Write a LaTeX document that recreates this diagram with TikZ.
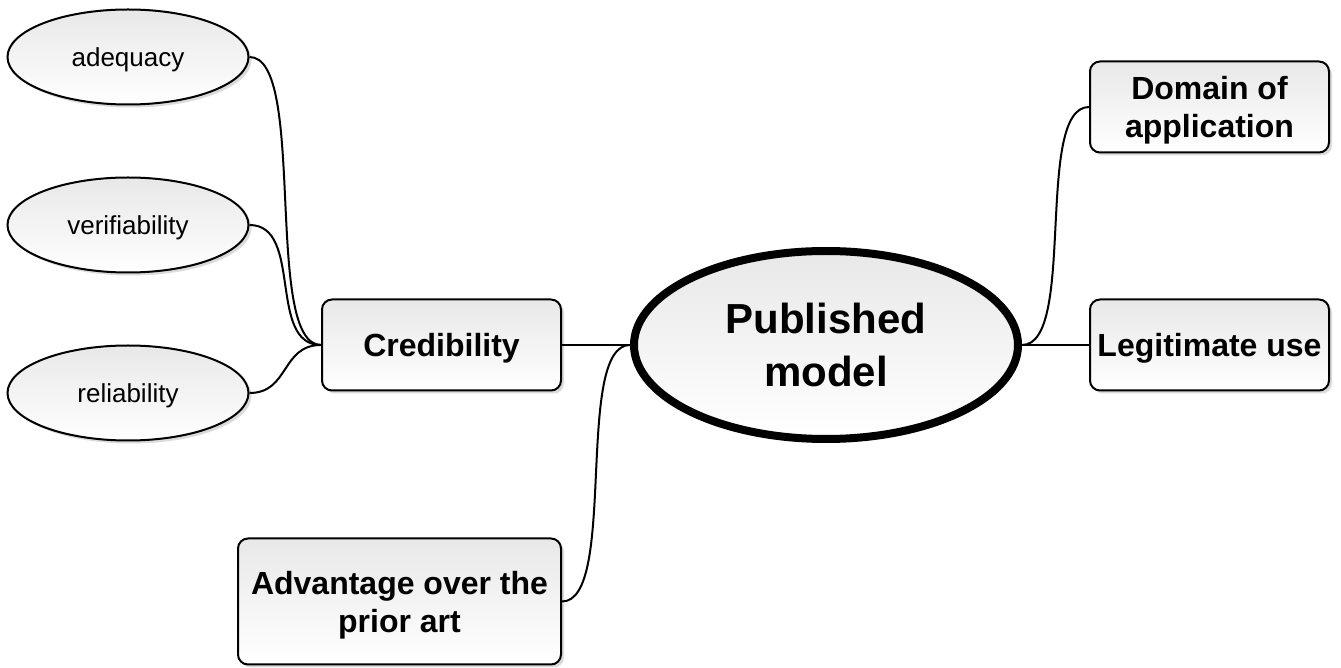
\documentclass[tikz,border=0pt]{standalone}
\usepackage{fontspec}
\setmainfont{Liberation Sans}
\usetikzlibrary{positioning,shapes.geometric,shadows}
\begin{document}
\begin{tikzpicture}[x=0.5pt, y=-0.5pt, node distance=35.5pt,
  glossy/.style = {top color=black!9, bottom color=white, drop shadow={shadow xshift=1.5pt, shadow yshift=-1.5pt, fill=black!14, opacity=1}},
  leaf/.style = {draw, ellipse, glossy, line width=1pt, minimum width=120.5pt, minimum height=47.5pt, inner sep=0pt, text depth=0pt, font=\fontsize{13}{15}\selectfont},
  topic/.style = {draw, rounded corners=5pt, glossy, line width=1pt, minimum width=119.5pt, minimum height=45.5pt, inner sep=2pt, text depth=0pt, align=center, font=\fontsize{16}{19}\selectfont\bfseries},
  hub/.style = {draw, ellipse, glossy, line width=4pt, minimum width=192pt, minimum height=94pt, inner sep=0pt, align=center, font=\fontsize{21}{26.5}\selectfont\bfseries},
  link/.style = {line width=1pt}]
\useasboundingbox (0,0) rectangle (1341,668);
\node[hub] (pub) at (826,345) {Published\\model};
\node[topic] (cred) [left=34pt of pub] {Credibility};
\node[topic] (legit) [right=33.5pt of pub] {Legitimate use};
\node[topic] (domain) [above=72.5pt of legit] {Domain of\\application};
\node[topic, minimum width=161.5pt, minimum height=63pt] (adv) [below left=73pt and 0pt of cred.south east] {Advantage over the\\prior art};
% aspects of credibility
\node[leaf] (rel) at (128,393) {reliability};
\node[leaf] (ver) [above=of rel] {verifiability};
\node[leaf] (ade) [above=of ver] {adequacy};
\draw[link] (ade.east) .. controls +(58,0) and +(-58,0) .. (cred.west);
\draw[link] (ver.east) .. controls +(54,0) and +(-54,0) .. (cred.west);
\draw[link] (rel.east) .. controls +(40,0) and +(-40,0) .. (cred.west);
\draw[link] (cred) -- (pub);
\draw[link] (pub) -- (legit);
\draw[link] (pub.west) .. controls +(-56,0) and +(56,0) .. (adv.east);
\draw[link] (pub.east) .. controls +(55,0) and +(-55,0) .. (domain.west);
\end{tikzpicture}
\end{document}
